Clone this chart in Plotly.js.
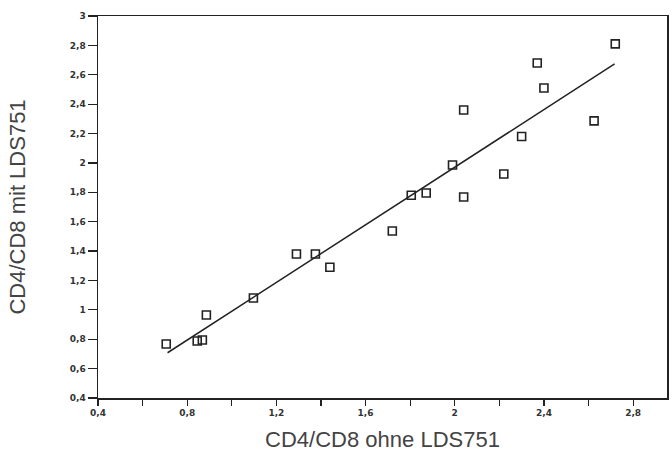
<!DOCTYPE html>
<html>
<head>
<meta charset="utf-8">
<script src="https://cdn.plot.ly/plotly-3.0.1.min.js"></script>
<style>html,body{margin:0;padding:0;background:#fff;}#chart{width:672px;height:452px;}</style>
</head>
<body>
<div id="chart"></div>
<script>
const ohneLDS = [0.706, 0.845, 0.868, 0.886, 1.097, 1.29, 1.375, 1.44, 1.72, 1.805, 1.872, 1.99, 2.04, 2.04, 2.22, 2.30, 2.37, 2.40, 2.625, 2.72];
const mitLDS  = [0.768, 0.788, 0.795, 0.965, 1.081, 1.38, 1.38, 1.29, 1.537, 1.78, 1.795, 1.986, 1.768, 2.36, 1.925, 2.18, 2.68, 2.51, 2.286, 2.81];
const fitX = [0.712, 2.717];
const fitY = [0.708, 2.674];
const xTickVals = [0.4, 0.8, 1.2, 1.6, 2, 2.4, 2.8];
const xMinorVals = [0.6, 1.0, 1.4, 1.8, 2.2, 2.6];
const yTickVals = [0.4, 0.6, 0.8, 1, 1.2, 1.4, 1.6, 1.8, 2, 2.2, 2.4, 2.6, 2.8, 3];

const traces = [
  {x: fitX, y: fitY, mode: 'lines', line: {color: '#222', width: 1.5}, hoverinfo: 'skip'},
  {x: ohneLDS, y: mitLDS, mode: 'markers',
   marker: {symbol: 'square-open', size: 8, color: '#222', line: {width: 1.6, color: '#222'}}}
];
const layout = {
  width: 672, height: 452,
  margin: {l: 98, r: 5, t: 16, b: 54},
  paper_bgcolor: '#fff', plot_bgcolor: '#fff',
  showlegend: false,
  separators: ',.',
  font: {family: 'Liberation Sans, Arial, sans-serif', color: '#333'},
  xaxis: {
    range: [0.4, 2.952], showgrid: false, zeroline: false,
    showline: true, mirror: true, linecolor: '#222', linewidth: 1.5,
    tickvals: xTickVals, ticks: 'outside', ticklen: 6, tickwidth: 1.2, tickcolor: '#222',
    minor: {tickvals: xMinorVals, ticks: 'outside', ticklen: 6, tickwidth: 1.2, tickcolor: '#222', showgrid: false},
    tickfont: {size: 9, family: 'DejaVu Sans, sans-serif', color: '#333', weight: 'bold'},
    title: {text: 'CD4/CD8 ohne LDS751', font: {size: 22, color: '#444'}, standoff: 14}
  },
  yaxis: {
    range: [0.4, 3], showgrid: false, zeroline: false,
    showline: true, mirror: true, linecolor: '#222', linewidth: 1.5,
    tickvals: yTickVals, ticks: 'outside', ticklen: 9, tickwidth: 1.2, tickcolor: '#222',
    tickfont: {size: 9, family: 'DejaVu Sans, sans-serif', color: '#333', weight: 'bold'},
    title: {text: 'CD4/CD8 mit LDS751', font: {size: 22, color: '#444'}, standoff: 38}
  }
};
Plotly.newPlot('chart', traces, layout, {displayModeBar: false, staticPlot: true});
</script>
</body>
</html>
